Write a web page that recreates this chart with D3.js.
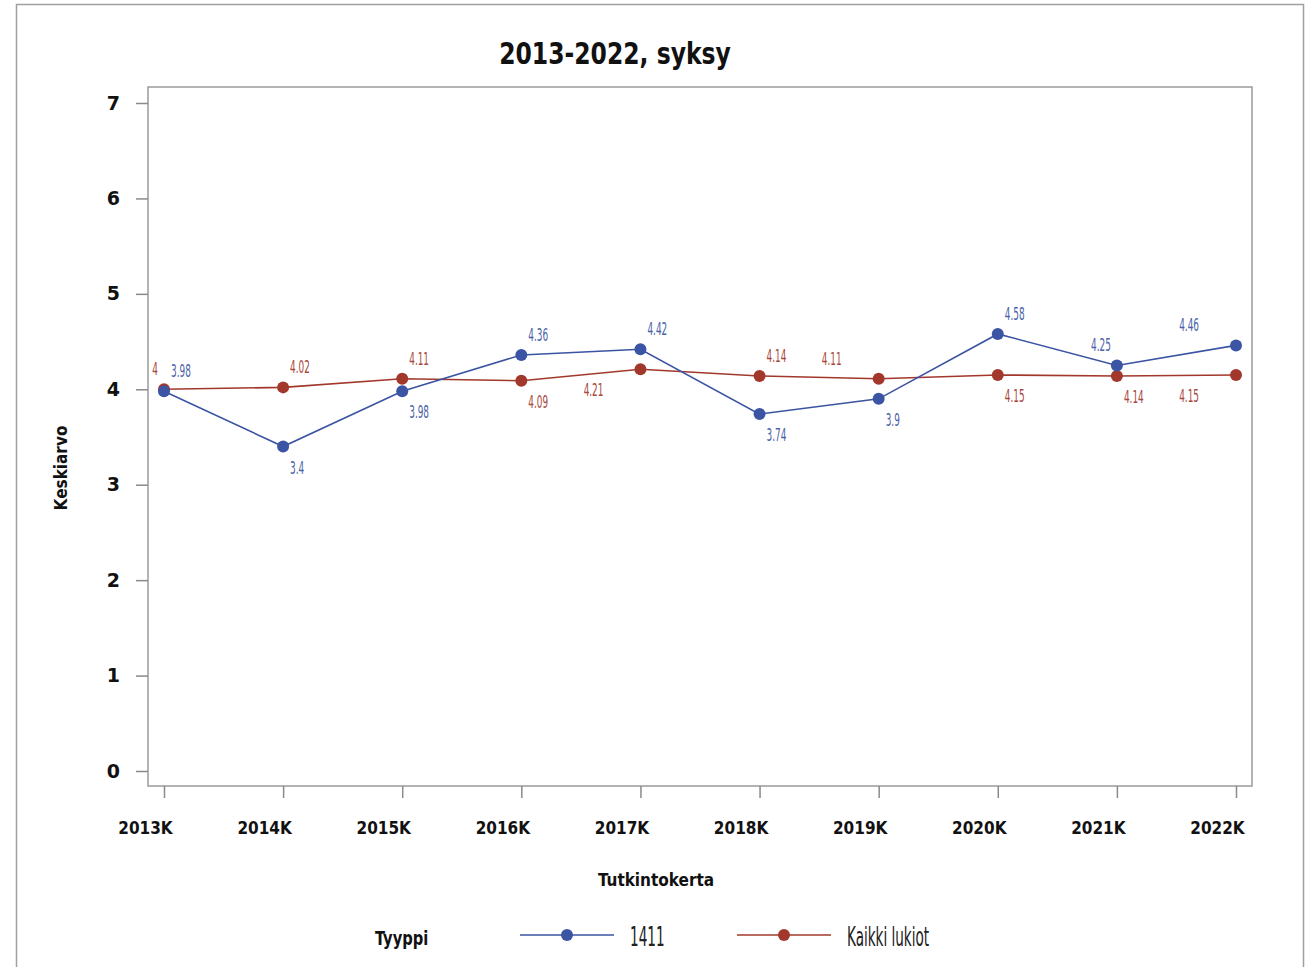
<!DOCTYPE html>
<html>
<head>
<meta charset="utf-8">
<script src="https://cdn.jsdelivr.net/npm/d3@7/dist/d3.min.js"></script>
<style>
  body { margin: 0; background: #fff; }
  text { font-family: "DejaVu Sans Condensed", "DejaVu Sans", sans-serif; }
</style>
</head>
<body>
<div id="chart"></div>
<script>
var categories = ['2013K', '2014K', '2015K', '2016K', '2017K', '2018K', '2019K', '2020K', '2021K', '2022K'];
var school = [3.98, 3.4, 3.98, 4.36, 4.42, 3.74, 3.9, 4.58, 4.25, 4.46];
var allSchools = [4, 4.02, 4.11, 4.09, 4.21, 4.14, 4.11, 4.15, 4.14, 4.15];
var yTicks = [0, 1, 2, 3, 4, 5, 6, 7];
var seriesNames = ['1411', 'Kaikki lukiot'];

// label placement per point: a = above, b = below, r = right, l = left, 2 = pushed further out
var schoolPlace = ['ar', 'br', 'br', 'ar', 'ar', 'br', 'br', 'ar', 'al', 'al2'];
var allPlace = ['al', 'ar', 'ar', 'br', 'bl2', 'ar', 'al2', 'br', 'br', 'bl2'];

var width = 1314, height = 967;
var plot = { left: 148, top: 87, right: 1252, bottom: 786 };

var svg = d3.select('#chart').append('svg')
  .attr('width', width)
  .attr('height', height);

// squeezed text, the original uses a narrow font
function narrowText(parent, tx, ty, sx, str) {
  return parent.append('text')
    .attr('transform', 'translate(' + tx + ',' + ty + ') scale(' + sx + ',1)')
    .text(str);
}

// outer frame
svg.append('rect')
  .attr('x', 16.5).attr('y', 4.5)
  .attr('width', 1287).attr('height', 980)
  .style('fill', 'none').style('stroke', '#a0a0a0').style('stroke-width', 1.5);

var x = d3.scalePoint()
  .domain(categories)
  .range([164, 1236]);

var y = d3.scaleLinear()
  .domain([0, 7])
  .range([771, 103]);

// plot frame
svg.append('rect')
  .attr('x', plot.left).attr('y', plot.top)
  .attr('width', plot.right - plot.left).attr('height', plot.bottom - plot.top)
  .style('fill', 'none').style('stroke', '#9a9a9a').style('stroke-width', 1.5);

// y axis
var yAxis = svg.append('g')
  .attr('transform', 'translate(' + plot.left + ',0)')
  .call(d3.axisLeft(y).tickValues(yTicks).tickSize(12).tickPadding(16).tickFormat(d3.format('d')));
yAxis.select('.domain').remove();
yAxis.selectAll('line').style('stroke', '#8a8a8a').style('stroke-width', 1.5);
yAxis.selectAll('text')
  .style('font-family', '"DejaVu Sans", sans-serif')
  .style('font-weight', 'bold').style('font-size', '19px').style('fill', '#111');

// x axis
var xAxis = svg.append('g')
  .attr('transform', 'translate(0,' + plot.bottom + ')')
  .call(d3.axisBottom(x).tickSize(12).tickPadding(24));
xAxis.select('.domain').remove();
xAxis.selectAll('line').style('stroke', '#8a8a8a').style('stroke-width', 1.5);
xAxis.selectAll('text')
  .attr('dx', -19)
  .style('font-weight', 'bold').style('font-size', '17px').style('fill', '#111');

// title and axis titles
narrowText(svg, 615, 64, 0.87, '2013-2022, syksy')
  .attr('text-anchor', 'middle')
  .style('font-weight', 'bold').style('font-size', '30px').style('fill', '#111');

svg.append('text')
  .attr('transform', 'translate(67,468) rotate(-90)')
  .attr('text-anchor', 'middle')
  .style('font-weight', 'bold').style('font-size', '17px').style('fill', '#111')
  .text('Keskiarvo');

svg.append('text')
  .attr('x', 656).attr('y', 886)
  .attr('text-anchor', 'middle')
  .style('font-weight', 'bold').style('font-size', '17px').style('fill', '#111')
  .text('Tutkintokerta');

var series = [
  { name: seriesNames[0], values: school, color: '#3b54a3', text: '#4a5fa8', place: schoolPlace },
  { name: seriesNames[1], values: allSchools, color: '#a2382c', text: '#a8473c', place: allPlace }
];

var line = d3.line()
  .x(function (d, i) { return x(categories[i]); })
  .y(function (d) { return y(d); });

function labelPos(code, px, py) {
  var dx = 7, dy = -14, anchor = 'start';
  if (code.charAt(0) === 'b') dy = 27;
  if (code.charAt(1) === 'l') { dx = -6; anchor = 'end'; }
  if (code.charAt(2) === '2') { dx = code.charAt(1) === 'l' ? -37 : 30; }
  return { x: px + dx, y: py + dy, anchor: anchor };
}

// red series under blue
series.slice().reverse().forEach(function (s) {
  svg.append('path')
    .datum(s.values)
    .attr('d', line)
    .style('fill', 'none').style('stroke', s.color).style('stroke-width', 1.6);
});

series.slice().reverse().forEach(function (s) {
  svg.selectAll(null)
    .data(s.values)
    .enter().append('circle')
    .attr('cx', function (d, i) { return x(categories[i]); })
    .attr('cy', function (d) { return y(d); })
    .attr('r', 6)
    .style('fill', s.color);
});

series.forEach(function (s) {
  s.values.forEach(function (d, i) {
    var p = labelPos(s.place[i], x(categories[i]), y(d));
    narrowText(svg, p.x, p.y, 0.55, String(d))
      .attr('text-anchor', p.anchor)
      .style('font-size', '18px').style('fill', s.text);
  });
});

// legend
var legend = svg.append('g');
narrowText(legend, 375, 945, 0.86, 'Tyyppi')
  .style('font-weight', 'bold').style('font-size', '19px').style('fill', '#111');

var legendX = [520, 737];
series.forEach(function (s, i) {
  var lx = legendX[i];
  legend.append('line')
    .attr('x1', lx).attr('x2', lx + 94)
    .attr('y1', 935).attr('y2', 935)
    .style('stroke', s.color).style('stroke-width', 1.6);
  legend.append('circle')
    .attr('cx', lx + 47).attr('cy', 935).attr('r', 6)
    .style('fill', s.color);
  narrowText(legend, lx + 110, 946, 0.58, s.name)
    .style('font-size', '26px').style('fill', '#222');
});
</script>
</body>
</html>
